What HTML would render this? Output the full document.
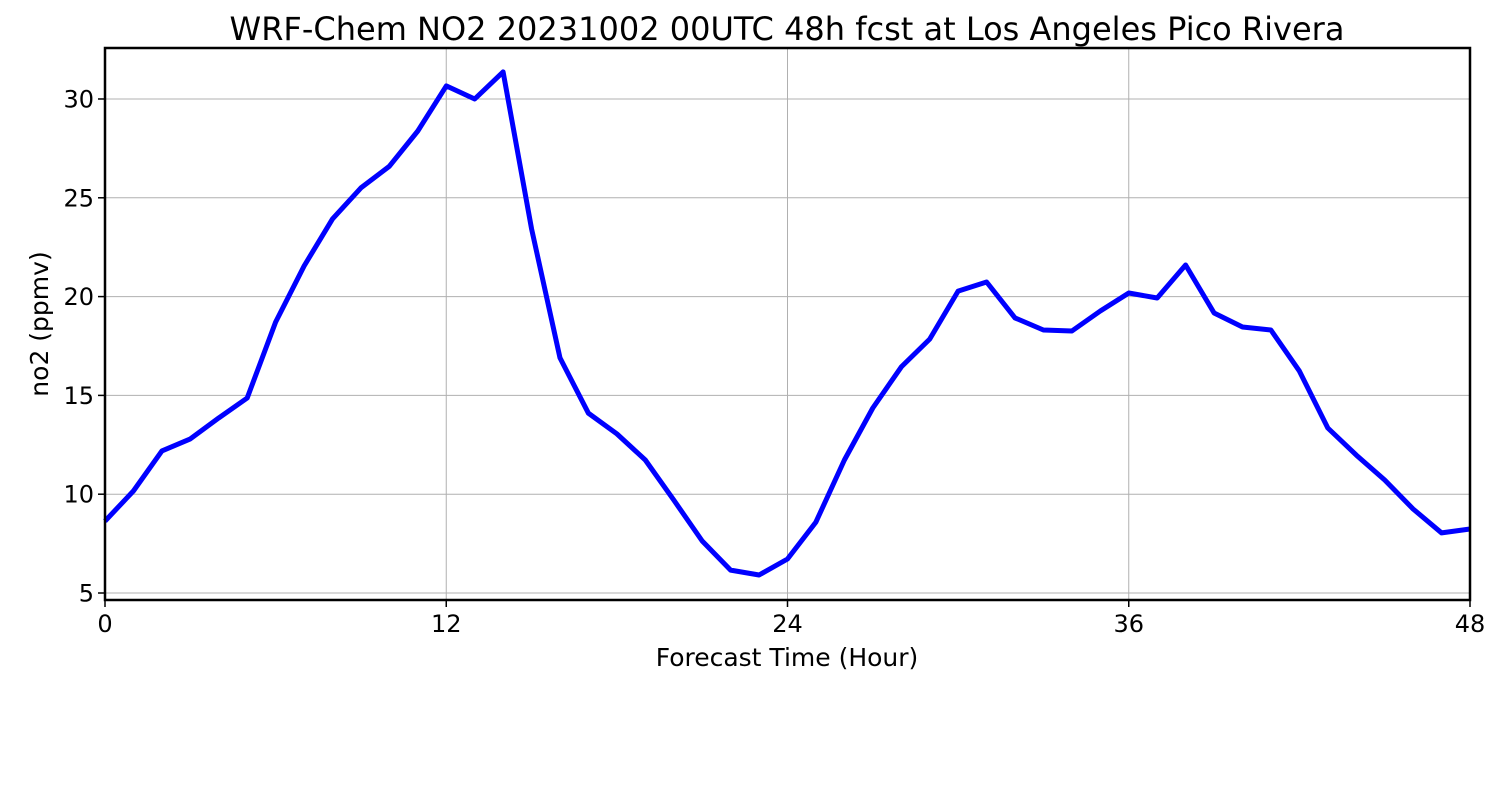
<!DOCTYPE html>
<html><head><meta charset="utf-8"><style>
html,body{margin:0;padding:0;background:#fff;}
svg{display:block;font-family:"DejaVu Sans","Liberation Sans",sans-serif;}
</style></head><body>
<svg id="chart" width="1500" height="800">
<text x="787" y="40" text-anchor="middle" font-size="32">WRF-Chem NO2  20231002 00UTC 48h fcst at Los Angeles Pico Rivera</text>
<g id="grid"></g>
<g id="ticks"></g>
<path id="line" fill="none" stroke="#0000ff" stroke-width="5" stroke-linejoin="round"/>
<rect x="105" y="48" width="1365" height="552" fill="none" stroke="#000" stroke-width="2.5"/>
<text x="787" y="666" text-anchor="middle" font-size="25">Forecast Time (Hour)</text>
<text transform="translate(48,324) rotate(-90)" text-anchor="middle" font-size="25">no2  (ppmv)</text>
</svg>
<script>
const hours=[0,1,2,3,4,5,6,7,8,9,10,11,12,13,14,15,16,17,18,19,20,21,22,23,24,25,26,27,28,29,30,31,32,33,34,35,36,37,38,39,40,41,42,43,44,45,46,47,48];
const no2=[8.64,10.16,12.19,12.8,13.86,14.87,18.71,21.55,23.93,25.5,26.6,28.38,30.66,30.0,31.37,23.42,16.9,14.1,13.05,11.73,9.7,7.63,6.16,5.91,6.72,8.59,11.73,14.36,16.44,17.85,20.28,20.74,18.92,18.31,18.26,19.27,20.18,19.93,21.6,19.17,18.46,18.31,16.23,13.35,11.98,10.72,9.25,8.04,8.24];
const xTicks=[0,12,24,36,48];
const yTicks=[5,10,15,20,25,30];
const X0=105,X1=1470,Y0=600,Y1=48,xmin=0,xmax=48,ymin=4.646,ymax=32.58;
const sx=v=>X0+(v-xmin)/(xmax-xmin)*(X1-X0);
const sy=v=>Y0-(v-ymin)/(ymax-ymin)*(Y0-Y1);
const NS="http://www.w3.org/2000/svg";
const grid=document.getElementById('grid'),ticks=document.getElementById('ticks');
function mk(tag,attrs,parent){const e=document.createElementNS(NS,tag);for(const k in attrs)e.setAttribute(k,attrs[k]);parent.appendChild(e);return e;}
xTicks.forEach(t=>{
  const x=sx(t);
  const g=mk('line',{x1:x,x2:x,y1:Y1,y2:Y0,stroke:'#b0b0b0','stroke-width':1},grid);
  
  
  mk('line',{x1:x,x2:x,y1:Y0,y2:Y0+7,stroke:'#000','stroke-width':1.5},ticks);
  const l=mk('text',{x:x,y:Y0+32,'text-anchor':'middle','font-size':24},ticks);
  l.textContent=t;
  
  
});
yTicks.forEach(t=>{
  const y=sy(t);
  const g=mk('line',{x1:X0,x2:X1,y1:y,y2:y,stroke:'#b0b0b0','stroke-width':1},grid);
  
  
  mk('line',{x1:X0-7,x2:X0,y1:y,y2:y,stroke:'#000','stroke-width':1.5},ticks);
  const l=mk('text',{x:X0-11,y:y+8.5,'text-anchor':'end','font-size':24},ticks);
  l.textContent=t;
  
  
});
document.getElementById('line').setAttribute('d',hours.map((h,i)=>(i?'L':'M')+sx(h).toFixed(1)+','+sy(no2[i]).toFixed(1)).join(''));
</script>
</body></html>
